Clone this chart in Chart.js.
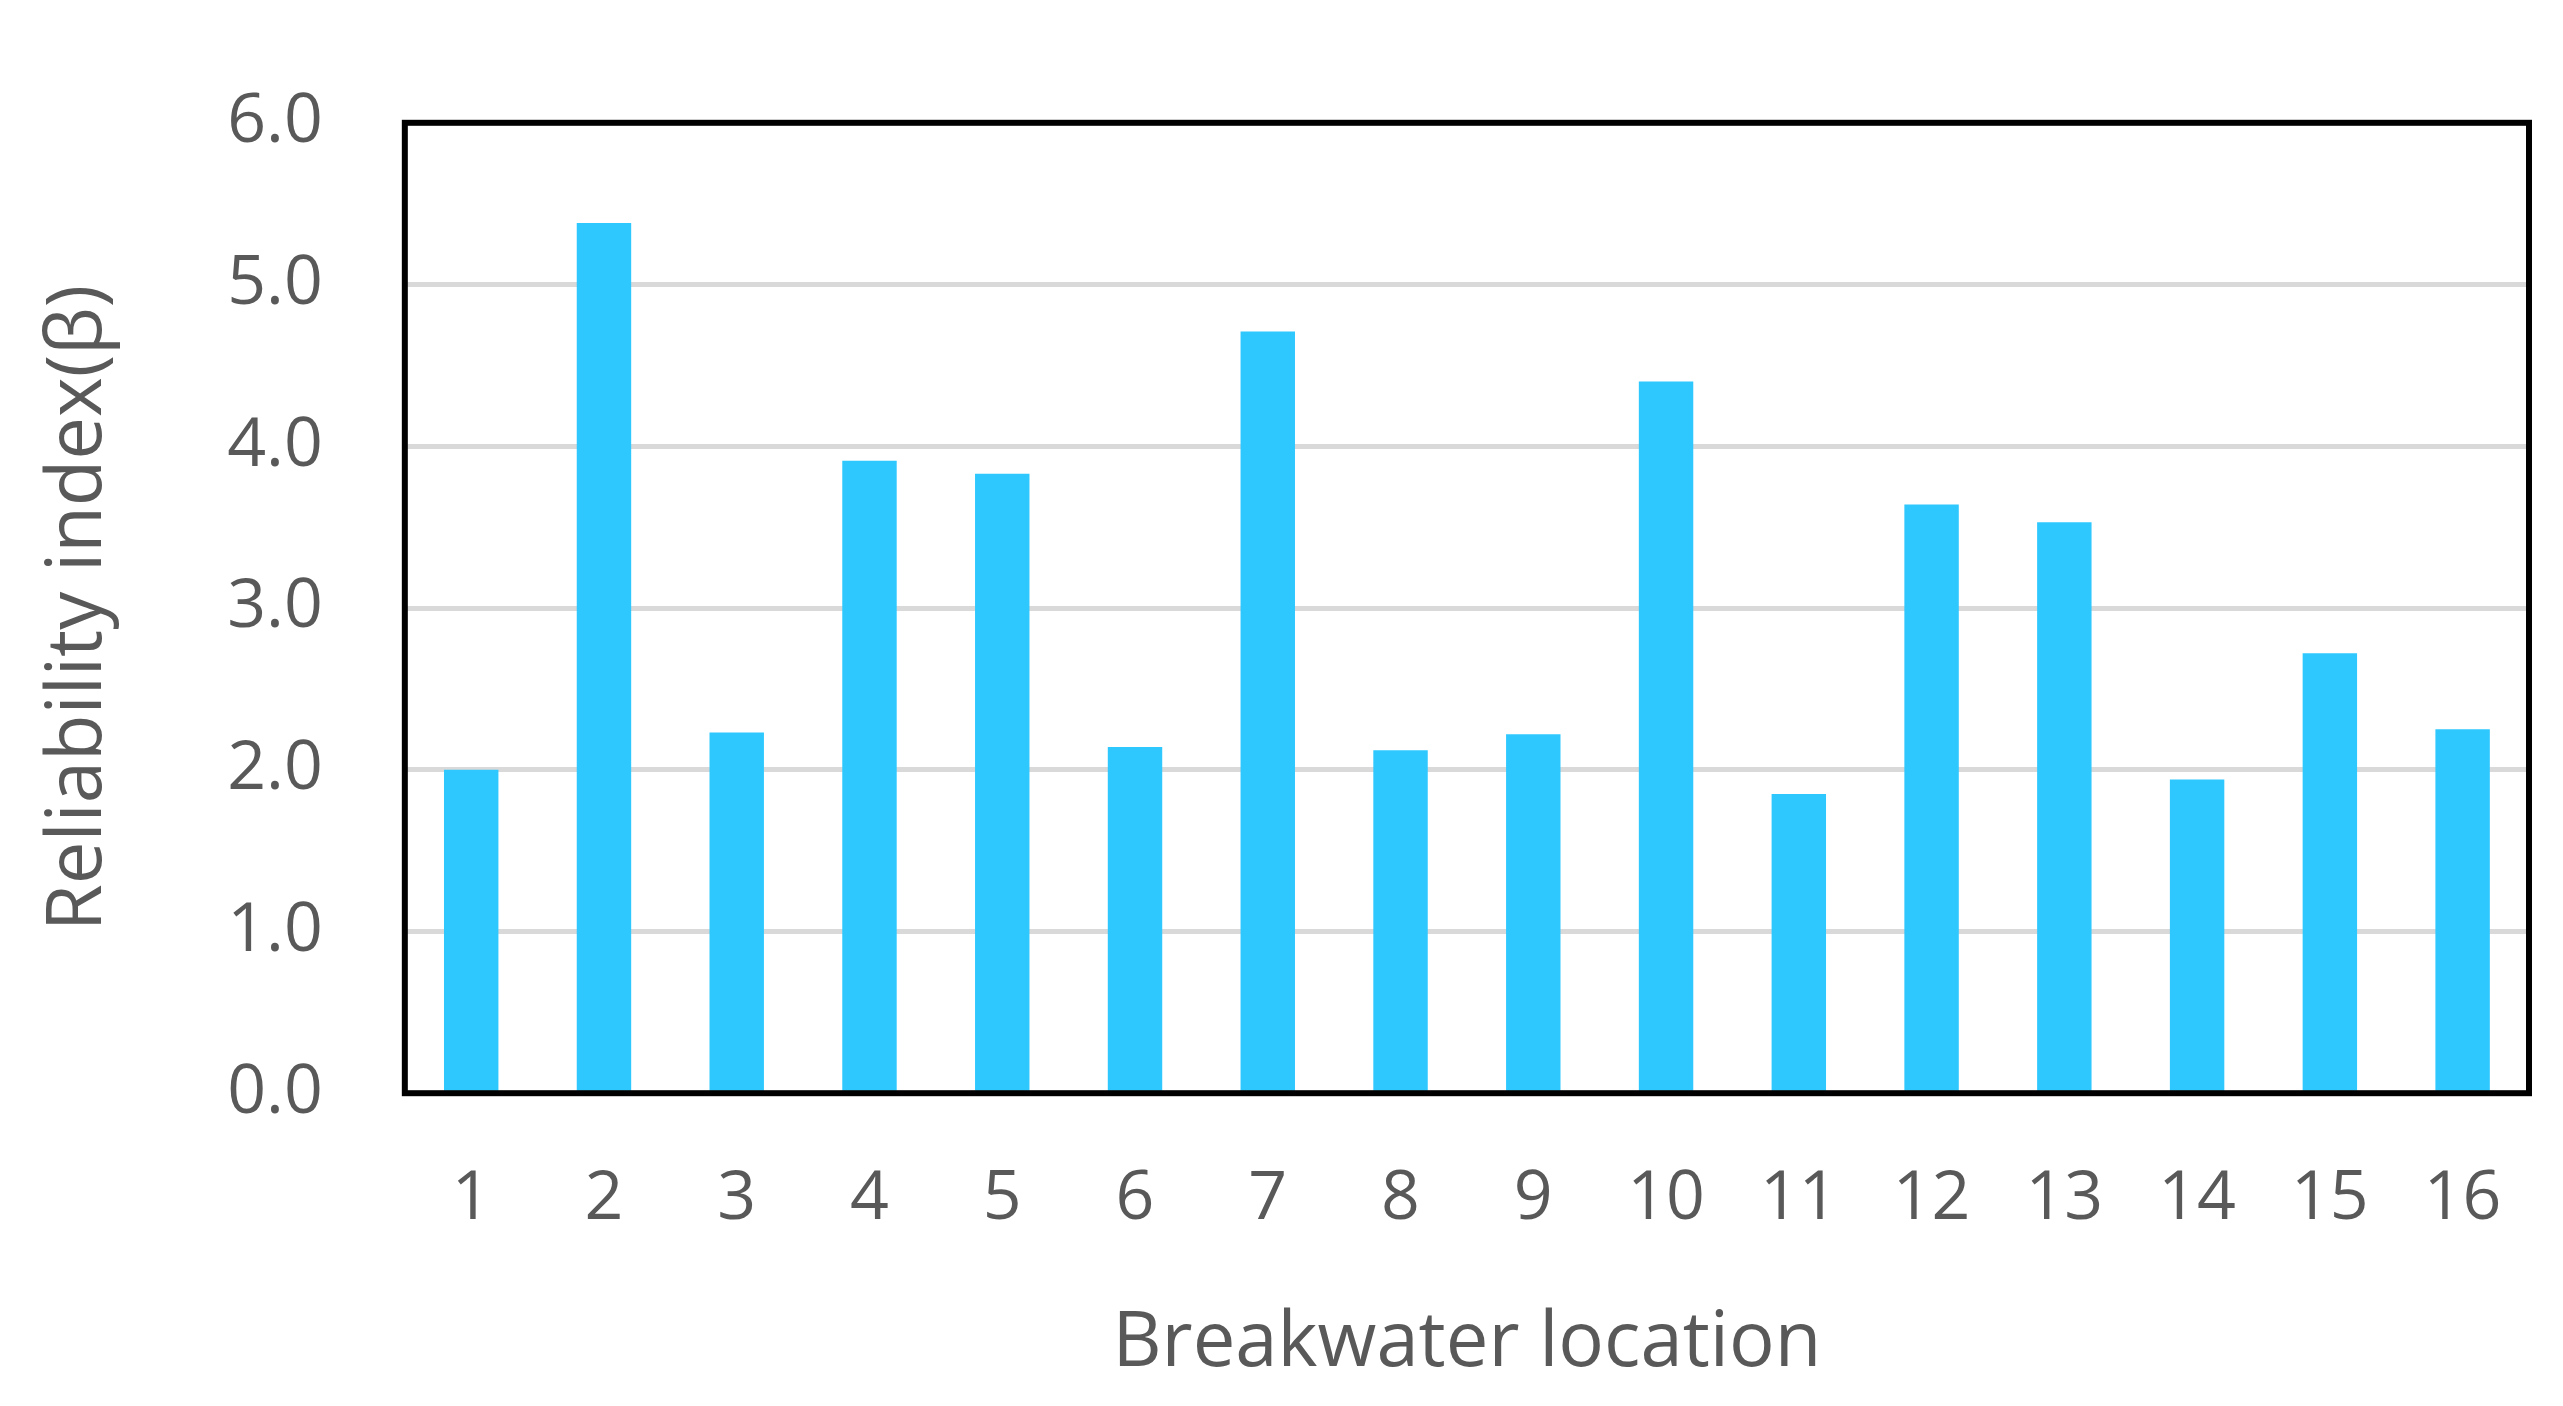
<!DOCTYPE html>
<html><head><meta charset="utf-8">
<script src="https://cdn.jsdelivr.net/npm/chart.js@4/dist/chart.umd.min.js"></script>
<style>html,body{margin:0;padding:0;background:#fff}#c{display:block}</style>
</head><body>
<canvas id="c" width="2563" height="1406"></canvas>
<script>
const categories = ["1","2","3","4","5","6","7","8","9","10","11","12","13","14","15","16"];
const reliability = [2.00,5.38,2.23,3.91,3.83,2.14,4.71,2.12,2.22,4.40,1.85,3.64,3.53,1.94,2.72,2.25];
const yTicks = [0,1,2,3,4,5,6];
const borderPlugin = {id:'bp', afterDraw(ch){const a=ch.chartArea,c=ch.ctx;c.save();c.strokeStyle='#000';c.lineWidth=6;c.strokeRect(a.left,a.top,a.right-a.left,a.bottom-a.top);c.restore();}};
new Chart(document.getElementById('c'),{
 type:'bar',
 data:{labels:categories,datasets:[{data:reliability,backgroundColor:'#2EC8FF',barPercentage:0.41,categoryPercentage:1}]},
 options:{responsive:false,animation:false,devicePixelRatio:1,
  layout:{padding:{left:30,right:34,top:25,bottom:12}},
  plugins:{legend:{display:false},tooltip:{enabled:false}},
  scales:{
   x:{grid:{display:false},border:{display:false},
      ticks:{color:'#595959',font:{family:'Open Sans',size:68},padding:58},
      title:{display:true,text:'Breakwater location',color:'#595959',font:{family:'Open Sans',size:76},padding:{top:0}}},
   y:{min:0,max:6,afterBuildTicks(s){s.ticks=yTicks.map(v=>({value:v}));},
      grid:{color:'#d9d9d9',lineWidth:5,drawTicks:false},border:{display:false},
      ticks:{color:'#595959',font:{family:'Open Sans',size:68},padding:82,callback:v=>v.toFixed(1)},
      title:{display:true,text:'Reliability index(β)',color:'#595959',font:{family:'Open Sans',size:76},padding:{bottom:20}}}
  }},
 plugins:[borderPlugin]
});
</script></body></html>
